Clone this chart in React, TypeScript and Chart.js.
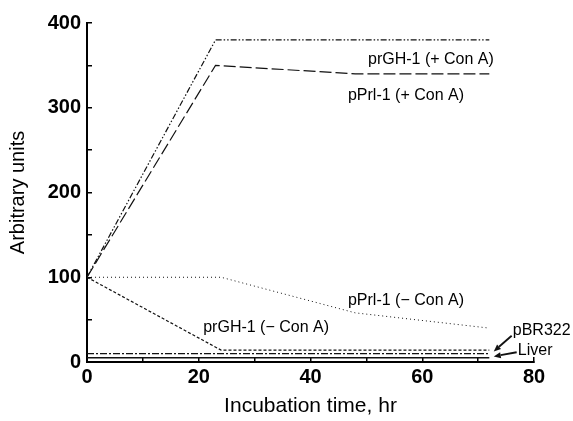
import React, { useEffect, useRef } from "react";
import { Chart, registerables } from "chart.js";

Chart.register(...registerables);

// Series data (x = incubation time in hr, y = arbitrary units)
const prGHPlusX = [0, 23, 72];
const prGHPlusY = [100, 380, 380];
const pPrlPlusX = [0, 23, 48, 72];
const pPrlPlusY = [100, 350, 340, 340];
const pPrlMinusX = [0, 24, 48, 72];
const pPrlMinusY = [100, 100, 58, 40];
const prGHMinusX = [0, 24, 72];
const prGHMinusY = [100, 14, 14];
const pBR322X = [0, 72];
const pBR322Y = [10, 10];
const liverX = [0, 72];
const liverY = [5, 5];

const seriesNames = [
  "prGH-1 (+ Con A)",
  "pPrl-1 (+ Con A)",
  "pPrl-1 (− Con A)",
  "prGH-1 (− Con A)",
  "pBR322",
  "Liver",
];

// Annotation text anchors (data coordinates: left edge, vertical centre)
const labelX = [50.3, 46.7, 46.7, 20.8, 76.2, 77.1];
const labelY = [357, 314, 72, 40.6, 37, 14];

// Arrows (data coordinates) for pBR322 and Liver
const arrowFromX = [76.0, 76.9];
const arrowFromY = [31, 11.5];
const arrowToX = [72.8, 72.8];
const arrowToY = [12.5, 6.5];

const xTickStep = 10;
const yTickStep = 50;

const pts = (xs: number[], ys: number[]) => xs.map((v, i) => ({ x: v, y: ys[i] }));

const annotPlugin = {
  id: "annots",
  afterDatasetsDraw(chart: any) {
    const { ctx } = chart;
    const xs = chart.scales.x;
    const ys = chart.scales.y;
    ctx.save();
    ctx.font = '16px "Liberation Sans", Arial, sans-serif';
    ctx.fillStyle = "#000";
    ctx.textBaseline = "middle";
    ctx.textAlign = "left";
    seriesNames.forEach((t, i) => {
      ctx.fillText(t, xs.getPixelForValue(labelX[i]), ys.getPixelForValue(labelY[i]));
    });
    ctx.strokeStyle = "#111";
    ctx.fillStyle = "#111";
    ctx.lineWidth = 1.8;
    for (let i = 0; i < arrowFromX.length; i++) {
      const x1 = xs.getPixelForValue(arrowFromX[i]);
      const y1 = ys.getPixelForValue(arrowFromY[i]);
      const x2 = xs.getPixelForValue(arrowToX[i]);
      const y2 = ys.getPixelForValue(arrowToY[i]);
      const ang = Math.atan2(y2 - y1, x2 - x1);
      const hl = 7;
      const hw = 3;
      const bx = x2 - hl * Math.cos(ang);
      const by = y2 - hl * Math.sin(ang);
      ctx.beginPath();
      ctx.moveTo(x1, y1);
      ctx.lineTo(bx, by);
      ctx.stroke();
      ctx.beginPath();
      ctx.moveTo(x2, y2);
      ctx.lineTo(bx + hw * Math.sin(ang), by - hw * Math.cos(ang));
      ctx.lineTo(bx - hw * Math.sin(ang), by + hw * Math.cos(ang));
      ctx.closePath();
      ctx.fill();
    }
    ctx.restore();
  },
};

export default function App() {
  const ref = useRef<HTMLCanvasElement | null>(null);
  useEffect(() => {
    if (!ref.current) return;
    const common = {
      borderColor: "#111",
      borderWidth: 1.2,
      pointRadius: 0,
      tension: 0,
      fill: false,
    };
    const chart = new Chart(ref.current, {
      type: "line",
      data: {
        datasets: [
          { ...common, label: seriesNames[0], data: pts(prGHPlusX, prGHPlusY), borderDash: [6, 2, 1.5, 2, 1.5, 2] },
          { ...common, label: seriesNames[1], data: pts(pPrlPlusX, pPrlPlusY), borderDash: [12, 4] },
          { ...common, label: seriesNames[2], data: pts(pPrlMinusX, pPrlMinusY), borderDash: [1, 3], borderWidth: 1 },
          { ...common, label: seriesNames[3], data: pts(prGHMinusX, prGHMinusY), borderDash: [3, 2] },
          { ...common, label: seriesNames[4], data: pts(pBR322X, pBR322Y), borderDash: [7, 2, 2, 2] },
          { ...common, label: seriesNames[5], data: pts(liverX, liverY), borderWidth: 1.5 },
        ],
      },
      options: {
        responsive: false,
        devicePixelRatio: 1,
        animation: false,
        layout: { padding: { left: 0, top: 17, right: 39, bottom: 0 } },
        plugins: { legend: { display: false }, tooltip: { enabled: false } },
        scales: {
          x: {
            type: "linear",
            min: 0,
            max: 80,
            afterFit: (s: any) => {
              s.height = 59;
            },
            border: { display: true, color: "#000", width: 2 },
            grid: { drawOnChartArea: false, drawTicks: true, tickLength: -5, color: "#000", lineWidth: 1.5 },
            ticks: {
              stepSize: xTickStep,
              autoSkip: false,
              maxRotation: 0,
              padding: 8,
              color: "#000",
              font: { family: '"Liberation Sans", Arial, sans-serif', size: 20, weight: "bold" },
              callback: (v: any) => (Number(v) % 20 === 0 ? String(v) : ""),
            },
            title: {
              display: true,
              text: "Incubation time, hr",
              color: "#000",
              font: { family: '"Liberation Sans", Arial, sans-serif', size: 21 },
              padding: { top: 0, bottom: 2 },
            },
          },
          y: {
            type: "linear",
            min: 0,
            max: 400,
            afterFit: (s: any) => {
              s.width = 87;
            },
            border: { display: true, color: "#000", width: 2 },
            grid: { drawOnChartArea: false, drawTicks: true, tickLength: -5, color: "#000", lineWidth: 1.5 },
            ticks: {
              stepSize: yTickStep,
              autoSkip: false,
              padding: 11,
              color: "#000",
              font: { family: '"Liberation Sans", Arial, sans-serif', size: 20, weight: "bold" },
              callback: (v: any) => (Number(v) % 100 === 0 ? String(v) : ""),
            },
            title: {
              display: true,
              text: "Arbitrary units",
              color: "#000",
              font: { family: '"Liberation Sans", Arial, sans-serif', size: 20 },
              padding: { top: 6, bottom: 0 },
            },
          },
        },
      } as any,
      plugins: [annotPlugin],
    });
    return () => chart.destroy();
  }, []);
  return (
    <div style={{ position: "absolute", left: 0, top: 0, width: 573, height: 421, background: "#fff" }}>
      <canvas ref={ref} width={573} height={421} style={{ display: "block" }} />
    </div>
  );
}
